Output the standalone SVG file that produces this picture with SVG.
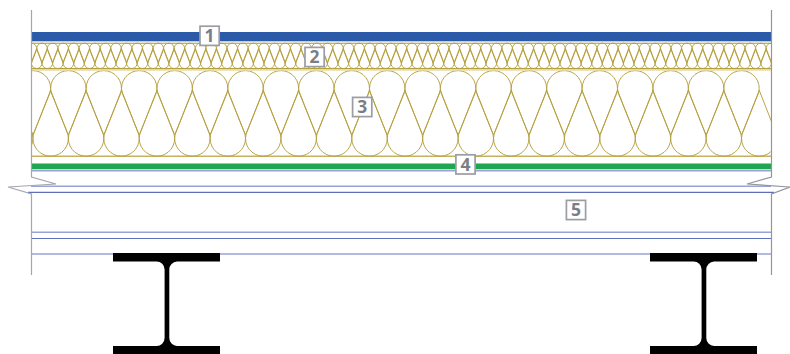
<svg xmlns="http://www.w3.org/2000/svg" width="790" height="354" viewBox="0 0 790 354">
<style>
.edge{fill:none;stroke:#a3a6ae;stroke-width:1.2}
.gold{fill:none;stroke:#b5a03e;stroke-width:.95}
.bl{stroke:#5f6fbb;stroke-width:1.2}
.li{stroke:#98a3d6;stroke-width:1.4}
.tag rect{fill:#fff;stroke:#9a9da3;stroke-width:1.7}
.tag text{font:bold 17.5px "Open Sans","Liberation Sans",Arial,sans-serif;fill:#7b7f85;text-anchor:middle}
</style>
<defs>
<clipPath id="c"><rect x="31" y="40" width="740" height="120"/></clipPath>
<path id="bt" class="gold" d="M0 46.5L-17.2 4A17.7 17.7 0 1 1 17.2 4Z"/>
<path id="bb" class="gold" d="M0 -48L-17.2 -4A17.7 17.7 0 1 0 17.2 -4Z"/>
<path id="st" class="gold" d="M0 14.5L-5.1 1.2A5.3 5.3 0 1 1 5.1 1.2Z"/>
<path id="sb" class="gold" d="M0 -14.5L-5.1 -1.2A5.3 5.3 0 1 0 5.1 -1.2Z"/>
<g id="tile">
<use href="#st" x="0" y="48.7"/><use href="#sb" x="5.285" y="63"/>
</g>
<g id="tile7">
<use href="#tile" x="0"/><use href="#tile" x="10.57"/><use href="#tile" x="21.14"/><use href="#tile" x="31.71"/><use href="#tile" x="42.28"/><use href="#tile" x="52.85"/><use href="#tile" x="63.42"/>
</g>
<g id="big">
<use href="#bt" x="0" y="88.5"/><use href="#bb" x="17.72" y="138.3"/>
</g>
</defs>
<rect x="31" y="32" width="740" height="9" fill="#2a5aa8"/>
<rect x="31" y="41" width="740" height="1.2" fill="#c4cdd8"/>
<g clip-path="url(#c)">
<use href="#tile7" x="-32"/><use href="#tile7" x="42"/><use href="#tile7" x="116"/><use href="#tile7" x="190"/><use href="#tile7" x="264"/><use href="#tile7" x="338"/><use href="#tile7" x="412"/><use href="#tile7" x="486"/><use href="#tile7" x="560"/><use href="#tile7" x="634"/><use href="#tile7" x="708"/>
<use href="#big" x="-2.5"/><use href="#big" x="32.93"/><use href="#big" x="68.36"/><use href="#big" x="103.79"/><use href="#big" x="139.22"/><use href="#big" x="174.65"/><use href="#big" x="210.08"/><use href="#big" x="245.51"/><use href="#big" x="280.94"/><use href="#big" x="316.37"/><use href="#big" x="351.8"/><use href="#big" x="387.23"/><use href="#big" x="422.66"/><use href="#big" x="458.09"/><use href="#big" x="493.52"/><use href="#big" x="528.95"/><use href="#big" x="564.38"/><use href="#big" x="599.81"/><use href="#big" x="635.24"/><use href="#big" x="670.67"/><use href="#big" x="706.1"/><use href="#big" x="741.53"/>
</g>
<rect x="31" y="42.8" width="740" height="1" fill="#b5a03e"/>
<rect x="31" y="68" width="740" height="1.1" fill="#b5a03e"/>
<rect x="31" y="69.1" width="740" height="1.6" fill="#e3d9a8"/>
<rect x="31" y="155.6" width="740" height="1.2" fill="#b5a03e"/>
<rect x="31" y="163.5" width="740" height="5.8" fill="#20a650"/>
<g fill="none">
<path class="li" d="M31 170.8H771"/>
<path class="li" d="M31 186.2H771"/>
<path class="bl" d="M28 192.3H774"/>
<path class="li" d="M31 232.2H771"/>
<path class="bl" d="M31 238.5H771"/>
<path class="li" d="M31 254H771"/>
</g>
<path class="edge" d="M31.5 10V177L56 184L8 187L31.5 194V275"/>
<path class="edge" style="stroke:#94969c" d="M771.5 10V177L747 184L790 187L771.5 194V275"/>
<g id="beam-left"><path d="M113 253H220V261.5H177A8 8 0 0 0 169.3 269.5V338A8 8 0 0 0 177 346H220V354H113V346H156.5A8 8 0 0 0 164.6 338V269.5A8 8 0 0 0 156.5 261.5H113Z"/></g>
<g id="beam-right"><path d="M650 253H757V261.5H714A8 8 0 0 0 706.3 269.5V338A8 8 0 0 0 714 346H757V354H650V346H693.5A8 8 0 0 0 701.6 338V269.5A8 8 0 0 0 693.5 261.5H650Z"/></g>
<g id="label-1" class="tag"><rect x="200" y="26.2" width="19.2" height="19.2"/><text x="209.6" y="42">1</text></g>
<g id="label-2" class="tag"><rect x="305" y="47.4" width="19.2" height="19.2"/><text x="314.6" y="63.2">2</text></g>
<g id="label-3" class="tag"><rect x="352.6" y="97.4" width="19.2" height="19.2"/><text x="362.2" y="113.2">3</text></g>
<g id="label-4" class="tag"><rect x="455.9" y="154.8" width="19.2" height="19.2"/><text x="465.5" y="170.6">4</text></g>
<g id="label-5" class="tag"><rect x="566.4" y="200.4" width="19.2" height="19.2"/><text x="576" y="216.2">5</text></g>
</svg>
